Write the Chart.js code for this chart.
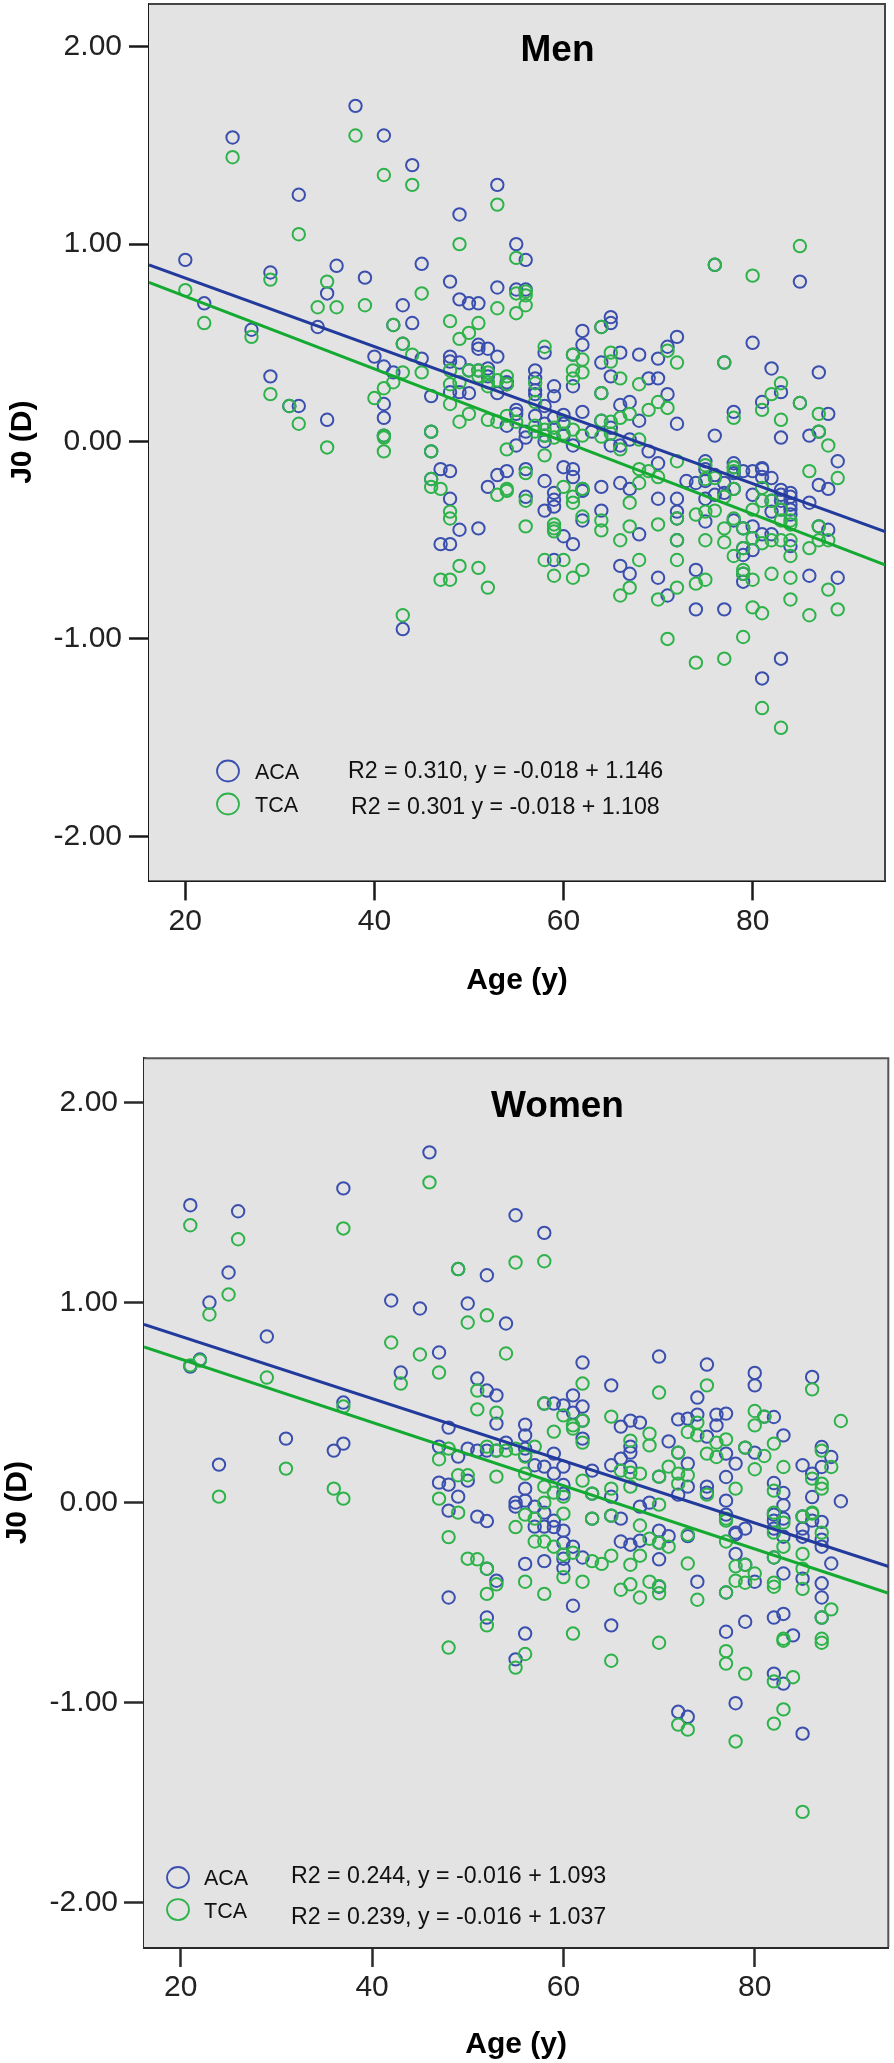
<!DOCTYPE html>
<html><head><meta charset="utf-8">
<style>
html,body{margin:0;padding:0;background:#fff;width:894px;height:2063px;overflow:hidden}
canvas{position:absolute;left:0;display:block}
</style>
<script src="https://cdn.jsdelivr.net/npm/chart.js@4"></script>
</head><body>
<canvas id="men" width="894" height="1030" style="top:0;width:894px;height:1030px"></canvas>
<canvas id="women" width="894" height="1033" style="top:1030px;width:894px;height:1033px"></canvas>
<script>
const xTickValues=[20,40,60,80];
const yTickValues=[2,1,0,-1,-2];
const seriesNames=['ACA','TCA'];
const menStats=['R2 = 0.310, y = -0.018 + 1.146','R2 = 0.301 y = -0.018 + 1.108'];
const womenStats=['R2 = 0.244, y = -0.016 + 1.093','R2 = 0.239, y = -0.016 + 1.037'];

const menACA=[[20,.92],[22,.70],[25,1.54],[27,.566],[29,.856],[29,.33],[31,.18],[32,1.25],[32,.18],[34,.58],[35,.75],[35,.11],[36,.89],[38,1.70],[39,.83],[40,.43],[41,1.55],[41,.38],[41,.19],[41,.12],[41,.03],[42,.59],[42,.35],[43,.69],[43,.495],[43,-.95],[44,1.40],[44,.60],[45,.90],[45,.42],[46,.23],[46,.05],[46,-.05],[46,-.19],[47,-.14],[47,-.52],
[48,.81],[48,.43],[48,.405],[48,.25],[48,-.15],[48,-.29],[48,-.52],[49,1.15],[49,.72],[49,.40],[49,.25],[49,-.447],[50,.70],[50,.36],[50,.245],[51,.70],[51,.49],[51,.47],[51,.36],[51,-.44],[52,.47],[52,.37],[52,.33],[52,-.23],[53,1.30],[53,.78],[53,.43],[53,.245],[53,-.17],[54,.30],[54,.29],[54,.08],[54,-.15],[55,1.00],[55,.77],[55,.16],[55,.14],[55,-.02],[56,.92],[56,.77],[56,.05],[56,.02],[56,-.14],[56,-.28],[57,.36],[57,.32],[57,.26],[57,.24],[57,.13],[58,.45],[58,.18],[58,.09],[58,.03],[58,0],[58,-.20],[58,-.35],[59,.28],[59,.23],[59,.12],[59,-.26],[59,-.295],[59,-.33],[59,-.60],[60,.135],[60,.09],[60,.03],[60,-.13],[60,-.48],[61,.44],[61,.28],[61,-.02],[61,-.14],[61,-.18],[61,-.52],[62,.56],[62,.49],[62,.15],[62,-.24],[62,-.25],[62,-.40],[63,.05],[64,.58],[64,.40],[64,.245],[64,.105],[64,-.23],[64,-.35],[65,.63],[65,.60],[65,.33],[65,.07],[65,-.02],[66,.45],[66,.185],[66,-.02],[66,-.21],[66,-.63],[67,.20],[67,.01],[67,-.24],[67,-.67],[68,.44],[68,.105],[68,-.47],[69,.32],[69,-.05],[70,.42],[70,.32],[70,-.11],[70,-.29],[70,-.69],[71,.48],[71,.24],[71,-.78],[72,.53],[72,.09],[72,-.29],[72,-.355],[72,-.39],[72,-.50],[73,-.20],[74,-.21],[74,-.65],[74,-.85],[75,-.10],[75,-.14],[75,-.20],[75,-.29],[75,-.405],[76,.895],[76,.03],[76,-.17],[76,-.27],[77,.40],[77,-.21],[77,-.26],[77,-.85],[78,.15],[78,-.11],[78,-.13],[78,-.16],[78,-.24],[78,-.40],[79,-.15],[79,-.44],[79,-.54],[79,-.575],[79,-.67],[79,-.71],[80,.50],[80,-.15],[80,-.27],[80,-.43],[80,-.55],[81,.20],[81,-.135],[81,-.14],[81,-.18],[81,-.47],[81,-1.20],[82,.37],[82,-.185],[82,-.30],[82,-.355],[82,-.47],[83,.25],[83,.02],[83,-.245],[83,-.27],[83,-.30],[83,-.345],[83,-1.10],[84,-.26],[84,-.28],[84,-.32],[84,-.345],[84,-.37],[84,-.53],[85,.81],[85,.195],[86,.03],[86,-.31],[86,-.68],[87,.35],[87,.05],[87,-.22],[87,-.43],[88,.14],[88,-.24],[88,-.447],[89,-.10],[89,-.69]];

const menTCA=[[20,.767],[22,.60],[25,1.44],[27,.53],[29,.82],[29,.24],[31,.18],[32,1.05],[32,.09],[34,.68],[35,.81],[35,-.03],[36,.68],[38,1.55],[39,.69],[40,.22],[41,1.35],[41,.27],[41,.03],[41,.02],[41,-.05],[42,.59],[42,.30],[43,.495],[43,.35],[43,-.88],[44,1.30],[44,.44],[45,.75],[45,.35],[46,.05],[46,-.05],[46,-.19],[46,-.23],[47,-.24],[47,-.70],
[48,.61],[48,.36],[48,.29],[48,.19],[48,-.355],[48,-.39],[48,-.70],[49,1.00],[49,.52],[49,.30],[49,.10],[49,-.63],[50,.55],[50,.36],[50,.14],[51,.60],[51,.36],[51,.33],[51,-.64],[52,.35],[52,.30],[52,.28],[52,.11],[52,-.74],[53,1.20],[53,.675],[53,.31],[53,.10],[53,-.27],[54,.33],[54,.29],[54,.13],[54,-.04],[54,-.24],[54,-.25],[55,.93],[55,.75],[55,.65],[55,.10],[56,.76],[56,.74],[56,.69],[56,-.16],[56,-.30],[56,-.43],[57,.295],[57,.20],[57,.08],[57,.05],[58,.48],[58,.06],[58,.03],[58,-.07],[58,-.60],[59,.07],[59,.02],[59,-.42],[59,-.44],[59,-.455],[59,-.68],[60,.10],[60,.04],[60,-.23],[60,-.60],[61,.44],[61,.36],[61,.32],[61,.06],[61,-.28],[61,-.31],[61,-.69],[62,.415],[62,.35],[62,.03],[62,-.24],[62,-.38],[62,-.65],[64,.58],[64,.245],[64,.105],[64,.025],[64,-.40],[64,-.45],[65,.45],[65,.405],[65,.10],[65,.04],[66,.32],[66,.12],[66,-.04],[66,-.50],[66,-.78],[67,.14],[67,-.31],[67,-.43],[67,-.74],[68,.29],[68,.01],[68,-.14],[68,-.21],[68,-.60],[69,.16],[69,-.15],[70,.20],[70,-.18],[70,-.42],[70,-.80],[71,.46],[71,.17],[71,-1.00],[72,.40],[72,-.10],[72,-.39],[72,-.50],[72,-.60],[72,-.74],[74,-.37],[74,-.72],[74,-1.12],[75,-.12],[75,-.19],[75,-.355],[75,-.50],[75,-.70],[76,.895],[76,-.185],[76,-.35],[77,.40],[77,-.28],[77,-.44],[77,-.51],[77,-1.10],[78,.12],[78,-.13],[78,-.15],[78,-.24],[78,-.39],[78,-.58],[79,-.44],[79,-.54],[79,-.65],[79,-.67],[79,-.99],[80,.84],[80,-.345],[80,-.49],[80,-.70],[80,-.84],[81,.16],[81,-.235],[81,-.30],[81,-.515],[81,-.87],[81,-1.35],[82,.24],[82,-.30],[82,-.50],[82,-.67],[83,.295],[83,.11],[83,-.345],[83,-.40],[83,-.50],[83,-1.45],[84,-.40],[84,-.42],[84,-.50],[84,-.58],[84,-.69],[84,-.80],[85,.99],[85,.195],[86,-.15],[86,-.54],[86,-.88],[87,.14],[87,.05],[87,-.43],[87,-.50],[88,-.02],[88,-.50],[88,-.75],[89,-.185],[89,-.85]];

const womenACA=[[21,1.486],[21,.68],[22,.715],[23,1.00],[24,.19],[25,1.15],[26,1.456],[29,.83],[31,.32],[36,.26],[37,1.57],[37,.50],[37,.295],[42,1.01],[43,.65],[45,.97],[46,1.75],[47,.75],[47,.28],[47,.10],[48,.375],[48,.09],[48,-.04],[48,-.474],[49,1.167],[49,.23],[49,.03],[50,.995],[50,.27],[50,.11],[51,.62],[51,.26],[51,-.07],[52,1.136],[52,.56],[52,.26],[52,-.092],[52,-.33],[52,-.574],[53,.536],[53,.395],[53,.26],[53,-.39],[54,.895],[54,.30],[55,1.436],[55,0],[55,-.02],[55,-.783],[56,.39],[56,.336],[56,.27],[56,.235],[56,.07],[56,.01],[56,-.306],[56,-.654],[57,.187],[57,-.02],[57,-.12],[58,1.348],[58,.495],[58,.18],[58,-.05],[58,-.12],[58,-.292],[59,.495],[59,.245],[59,.145],[59,-.09],[59,-.122],[60,.486],[60,.18],[60,.088],[60,.045],[60,-.14],[60,-.20],[60,-.28],[60,-.328],[61,.536],[61,.45],[61,-.22],[61,-.515],[62,.70],[62,.48],[62,.41],[62,.32],[62,-.274],[63,.16],[63,.045],[63,-.08],[65,.586],[65,.187],[65,.03],[65,-.065],[65,-.613],[66,.38],[66,.22],[66,-.08],[66,-.194],[67,.41],[67,.28],[67,.25],[67,.178],[67,-.21],[68,.40],[68,-.02],[68,-.19],[69,0],[70,.73],[70,.13],[70,-.14],[70,-.20],[70,-.283],[70,-.42],[71,.306],[71,-.167],[72,.416],[72,.25],[72,.04],[72,-1.045],[73,.42],[73,.195],[73,.08],[73,-.167],[73,-1.07],[74,.525],[74,.44],[74,-.395],[75,.69],[75,.33],[75,.08],[75,.05],[76,.44],[76,.386],[77,.445],[77,.245],[77,.128],[77,.01],[77,-.06],[77,-.449],[77,-.645],[78,.195],[78,-.15],[78,-.158],[78,-.256],[78,-1.002],[79,.275],[79,-.13],[79,-.31],[79,-.595],[80,.648],[80,.586],[80,.25],[80,-.395],[81,.43],[82,.428],[82,.098],[82,-.06],[82,-.09],[82,-.13],[82,-.274],[82,-.574],[82,-.854],[83,.336],[83,.048],[83,-.013],[83,-.08],[83,-.17],[83,-.354],[83,-.556],[83,-.904],[84,-.663],[85,.187],[85,-.069],[85,-.13],[85,-.17],[85,-.38],[85,-1.154],[86,.628],[86,.145],[86,.028],[86,-.09],[87,.278],[87,.178],[87,-.096],[87,-.185],[87,-.22],[87,-.403],[87,-.474],[87,-.574],[88,.228],[88,-.304],[89,.007]];

const womenTCA=[[21,1.386],[21,.686],[22,.71],[23,.94],[24,.03],[25,1.04],[26,1.316],[29,.625],[31,.17],[36,.07],[37,1.37],[37,.48],[37,.02],[42,.80],[43,.595],[45,.74],[46,1.60],[47,.65],[47,.217],[47,.02],[48,.27],[48,-.172],[48,-.724],[49,1.167],[49,.137],[49,-.05],[50,.90],[50,.137],[50,-.28],[51,.56],[51,.466],[51,-.283],[52,.936],[52,.28],[52,-.33],[52,-.456],[52,-.613],[53,.45],[53,.26],[53,.13],[53,-.408],[54,.745],[54,.26],[55,1.20],[55,.27],[55,-.122],[55,-.824],[56,.23],[56,.145],[56,-.06],[56,-.395],[56,-.756],[57,.28],[57,-.08],[57,-.194],[58,1.206],[58,.495],[58,.08],[58,0],[58,-.194],[58,-.456],[59,.355],[59,.05],[59,-.22],[60,.436],[60,.03],[60,-.055],[60,-.26],[60,-.372],[61,.386],[61,.37],[61,-.25],[61,-.654],[62,.595],[62,.41],[62,.30],[62,.11],[62,-.395],[63,.045],[63,-.08],[63,-.292],[64,-.306],[65,.43],[65,.07],[65,-.065],[65,-.265],[65,-.79],[66,.16],[66,-.435],[67,.31],[67,.15],[67,.08],[67,-.31],[67,-.408],[68,.145],[68,-.114],[68,-.265],[68,-.474],[69,.345],[69,.286],[69,-.18],[69,-.395],[70,.55],[70,.13],[70,-.01],[70,-.20],[70,-.417],[70,-.453],[70,-.70],[71,.18],[71,-.22],[72,.25],[72,.145],[72,.095],[72,-1.109],[73,.353],[73,.137],[73,-.16],[73,-.304],[73,-1.134],[74,.40],[74,.336],[74,-.485],[75,.586],[75,.245],[75,.04],[76,.30],[76,.228],[77,.316],[77,-.08],[77,-.09],[77,-.194],[77,-.449],[77,-.742],[77,-.804],[78,.07],[78,-.318],[78,-.39],[78,-1.193],[79,.275],[79,-.31],[79,-.40],[79,-.854],[80,.458],[80,.386],[80,.167],[80,-.354],[81,.43],[81,.233],[82,.295],[82,.06],[82,-.05],[82,-.15],[82,-.274],[82,-.40],[82,-.42],[82,-.893],[82,-1.104],[83,.178],[83,-.10],[83,-.22],[83,-.68],[83,-.69],[83,-1.033],[84,-.872],[85,-.07],[85,-.256],[85,-.33],[85,-.431],[85,-1.545],[86,.566],[86,.12],[86,-.05],[86,-.055],[87,.26],[87,.095],[87,.07],[87,-.15],[87,-.574],[87,-.68],[87,-.70],[88,.178],[88,-.533],[89,.408]];

const menFitACA=[[16.16,.895],[94,-.456]];
const menFitTCA=[[16.16,.806],[94,-.625]];
const womenFitACA=[[16.16,.891],[94,-.319]];
const womenFitTCA=[[16.16,.778],[94,-.453]];

const BLUE='#3a4fae',GREEN='#2eb24a',LINE_BLUE='#223a9c',LINE_GREEN='#14aa32';
const FONT='"Liberation Sans", Arial, sans-serif';
const toXY=a=>a.map(p=>({x:p[0],y:p[1]}));
const noPad=s=>{s.paddingTop=0;s.paddingBottom=0;s.paddingLeft=0;s.paddingRight=0};

const overlay={
  id:'overlay',
  beforeDatasetsDraw(c,_,o){
    const a=c.chartArea,g=c.ctx;g.save();
    g.fillStyle='#e3e3e3';g.fillRect(a.left,a.top,a.right-a.left,a.bottom-a.top);
    g.strokeStyle=o.frame;g.lineWidth=2;
    g.beginPath();g.moveTo(a.left,a.top);g.lineTo(a.right,a.top);g.lineTo(a.right,a.bottom);g.stroke();
    g.restore();
  },
  afterDraw(c,_,o){
    const g=c.ctx;g.save();
    g.textBaseline='middle';g.fillStyle='#000';
    g.textAlign='center';g.font='bold 37px '+FONT;g.fillText(o.title,o.titleX,o.titleY);
    g.textAlign='left';
    o.rows.forEach((r,i)=>{
      g.beginPath();g.ellipse(r.cx,r.cy,11,10.5,0,0,Math.PI*2);
      g.lineWidth=1.8;g.strokeStyle=i?GREEN:BLUE;g.stroke();
      g.fillStyle='#111';
      g.font='21.5px '+FONT;g.fillText(seriesNames[i],r.lx,r.ly);
      g.font='23.2px '+FONT;g.fillText(o.stats[i],r.sx,r.sy);
    });
    g.restore();
  }
};

function build(id,aca,tca,fitA,fitT,cfg){
  new Chart(document.getElementById(id),{
    type:'scatter',
    data:{datasets:[
      {label:'ACA fit',data:toXY(fitA),showLine:true,pointRadius:0,borderColor:LINE_BLUE,borderWidth:3,order:1},
      {label:'TCA fit',data:toXY(fitT),showLine:true,pointRadius:0,borderColor:LINE_GREEN,borderWidth:3,order:0},
      {label:'TCA',data:toXY(tca),pointStyle:'circle',pointRadius:6.2,pointBorderWidth:2,pointBackgroundColor:'rgba(0,0,0,0)',pointBorderColor:GREEN,order:2},
      {label:'ACA',data:toXY(aca),pointStyle:'circle',pointRadius:6.2,pointBorderWidth:2,pointBackgroundColor:'rgba(0,0,0,0)',pointBorderColor:BLUE,order:3}
    ]},
    plugins:[overlay],
    options:{
      responsive:false,animation:false,devicePixelRatio:1,
      layout:{autoPadding:false,padding:{top:cfg.top,right:cfg.right,left:0,bottom:0}},
      plugins:{legend:{display:false},tooltip:{enabled:false},
        overlay:{title:cfg.title,titleX:cfg.titleX,titleY:cfg.titleY,rows:cfg.rows,stats:cfg.stats,frame:cfg.frame}},
      scales:{
        x:{type:'linear',min:cfg.xmin,max:cfg.xmax,
          afterBuildTicks:s=>{s.ticks=xTickValues.map(v=>({value:v}))},
          afterFit:s=>{s.height=cfg.xH;noPad(s)},
          border:{display:true,color:cfg.axis,width:3},
          grid:{drawOnChartArea:false,drawTicks:true,tickLength:20,tickWidth:2.5,tickColor:cfg.axis},
          ticks:{padding:3,maxRotation:0,autoSkip:false,color:'#222',font:{family:FONT,size:30},callback:v=>String(v)},
          title:{display:true,text:'Age (y)',color:'#000',font:{family:FONT,size:30,weight:'bold'},padding:cfg.xTitlePad}},
        y:{type:'linear',min:cfg.ymin,max:cfg.ymax,
          afterBuildTicks:s=>{s.ticks=yTickValues.map(v=>({value:v}))},
          afterFit:s=>{s.width=cfg.yW;noPad(s)},
          border:{display:true,color:cfg.axis,width:3},
          grid:{drawOnChartArea:false,drawTicks:true,tickLength:20,tickWidth:2.5,tickColor:cfg.axis},
          ticks:{padding:cfg.yPad,autoSkip:false,color:'#222',font:{family:FONT,size:30},callback:v=>Number(v).toFixed(2)},
          title:{display:true,text:'J0 (D)',color:'#000',font:{family:FONT,size:30,weight:'bold'},padding:cfg.yTitlePad}}
      }
    }
  });
}

build('men',menACA,menTCA,menFitACA,menFitTCA,{
  title:'Men',titleX:557.5,titleY:51,stats:menStats,
  rows:[{cx:228,cy:771,lx:255,ly:773,sx:348,sy:772},{cx:228,cy:804,lx:255,ly:806,sx:351,sy:808}],
  top:4,right:9,yW:149,xH:149.6,xmin:16.16,xmax:94,ymin:-2.223,ymax:2.216,axis:'#1a1a1a',frame:'#444',yPad:7,
  xTitlePad:{top:0,bottom:31},yTitlePad:{top:5,bottom:0}
});
build('women',womenACA,womenTCA,womenFitACA,womenFitTCA,{
  title:'Women',titleX:557.5,titleY:77,stats:womenStats,
  rows:[{cx:178,cy:847.5,lx:204,ly:849,sx:291,sy:847},{cx:178,cy:879.6,lx:204,ly:882,sx:291,sy:888}],
  top:28.3,right:5.7,yW:144,xH:116,xmin:16.16,xmax:93.96,ymin:-2.22,ymax:2.22,axis:'#2a2a2a',frame:'#555',yPad:6,
  xTitlePad:{top:0,bottom:0},yTitlePad:{top:0,bottom:0}
});
</script>
</body></html>
